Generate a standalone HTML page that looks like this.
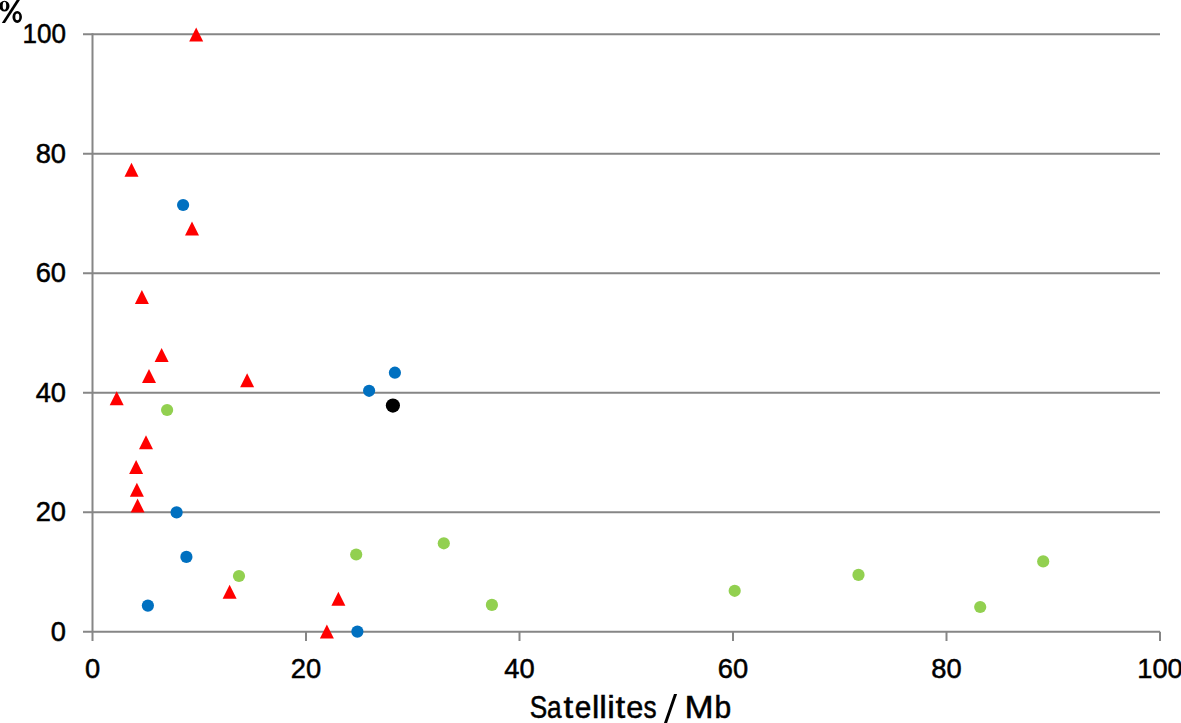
<!DOCTYPE html>
<html><head><meta charset="utf-8"><style>
html,body{margin:0;padding:0;background:#fff;}
body{width:1181px;height:723px;overflow:hidden;position:relative;}
svg{position:absolute;left:0;top:0;}
text{font-family:"Liberation Sans",sans-serif;fill:#000;stroke:#000;stroke-width:0.5px;}
</style></head><body>
<svg width="1181" height="723" viewBox="0 0 1181 723">
<line x1="83" y1="631.70" x2="1160" y2="631.70" stroke="#868686" stroke-width="2"/>
<line x1="83" y1="512.20" x2="1160" y2="512.20" stroke="#868686" stroke-width="2"/>
<line x1="83" y1="392.70" x2="1160" y2="392.70" stroke="#868686" stroke-width="2"/>
<line x1="83" y1="273.20" x2="1160" y2="273.20" stroke="#868686" stroke-width="2"/>
<line x1="83" y1="153.70" x2="1160" y2="153.70" stroke="#868686" stroke-width="2"/>
<line x1="83" y1="34.20" x2="1160" y2="34.20" stroke="#868686" stroke-width="2"/>
<line x1="92.5" y1="33.2" x2="92.5" y2="641" stroke="#868686" stroke-width="2"/>
<line x1="306.00" y1="631.7" x2="306.00" y2="641" stroke="#868686" stroke-width="2"/>
<line x1="519.50" y1="631.7" x2="519.50" y2="641" stroke="#868686" stroke-width="2"/>
<line x1="733.00" y1="631.7" x2="733.00" y2="641" stroke="#868686" stroke-width="2"/>
<line x1="946.50" y1="631.7" x2="946.50" y2="641" stroke="#868686" stroke-width="2"/>
<line x1="1160.00" y1="631.7" x2="1160.00" y2="641" stroke="#868686" stroke-width="2"/>
<circle cx="167.1" cy="410.0" r="6.1" fill="#92D050"/>
<circle cx="239.0" cy="576.0" r="6.1" fill="#92D050"/>
<circle cx="356.2" cy="554.5" r="6.1" fill="#92D050"/>
<circle cx="443.8" cy="543.3" r="6.1" fill="#92D050"/>
<circle cx="491.9" cy="604.9" r="6.1" fill="#92D050"/>
<circle cx="734.7" cy="590.8" r="6.1" fill="#92D050"/>
<circle cx="858.5" cy="574.9" r="6.1" fill="#92D050"/>
<circle cx="980.2" cy="607.0" r="6.1" fill="#92D050"/>
<circle cx="1043.2" cy="561.4" r="6.1" fill="#92D050"/>
<circle cx="183.1" cy="205.0" r="6.1" fill="#0070C0"/>
<circle cx="394.9" cy="372.7" r="6.1" fill="#0070C0"/>
<circle cx="369.1" cy="390.8" r="6.1" fill="#0070C0"/>
<circle cx="176.6" cy="512.4" r="6.1" fill="#0070C0"/>
<circle cx="186.4" cy="556.9" r="6.1" fill="#0070C0"/>
<circle cx="147.9" cy="605.6" r="6.1" fill="#0070C0"/>
<circle cx="357.4" cy="631.6" r="6.1" fill="#0070C0"/>
<circle cx="392.9" cy="405.6" r="7.1" fill="#000"/>
<path d="M196.20 27.50 L203.20 41.50 L189.20 41.50Z" fill="#FF0000"/>
<path d="M131.50 162.80 L138.50 176.80 L124.50 176.80Z" fill="#FF0000"/>
<path d="M192.00 221.60 L199.00 235.60 L185.00 235.60Z" fill="#FF0000"/>
<path d="M141.90 290.00 L148.90 304.00 L134.90 304.00Z" fill="#FF0000"/>
<path d="M161.60 347.90 L168.60 361.90 L154.60 361.90Z" fill="#FF0000"/>
<path d="M149.00 368.90 L156.00 382.90 L142.00 382.90Z" fill="#FF0000"/>
<path d="M247.10 373.20 L254.10 387.20 L240.10 387.20Z" fill="#FF0000"/>
<path d="M116.70 391.20 L123.70 405.20 L109.70 405.20Z" fill="#FF0000"/>
<path d="M146.00 435.20 L153.00 449.20 L139.00 449.20Z" fill="#FF0000"/>
<path d="M136.10 459.90 L143.10 473.90 L129.10 473.90Z" fill="#FF0000"/>
<path d="M136.90 482.70 L143.90 496.70 L129.90 496.70Z" fill="#FF0000"/>
<path d="M137.60 498.60 L144.60 512.60 L130.60 512.60Z" fill="#FF0000"/>
<path d="M229.60 584.70 L236.60 598.70 L222.60 598.70Z" fill="#FF0000"/>
<path d="M338.40 591.80 L345.40 605.80 L331.40 605.80Z" fill="#FF0000"/>
<path d="M326.90 624.60 L333.90 638.60 L319.90 638.60Z" fill="#FF0000"/>
<g font-size="27.3">
<text x="66" y="640.5" text-anchor="end">0</text>
<text x="66" y="521.0" text-anchor="end">20</text>
<text x="66" y="401.5" text-anchor="end">40</text>
<text x="66" y="282.0" text-anchor="end">60</text>
<text x="66" y="162.5" text-anchor="end">80</text>
<text x="66" y="43.0" text-anchor="end" transform="translate(66 0) scale(0.955 1) translate(-66 0)">100</text>
<text x="92.5" y="678" text-anchor="middle">0</text>
<text x="306.0" y="678" text-anchor="middle">20</text>
<text x="519.5" y="678" text-anchor="middle">40</text>
<text x="733.0" y="678" text-anchor="middle">60</text>
<text x="946.5" y="678" text-anchor="middle">80</text>
<text x="1160.0" y="678" text-anchor="middle">100</text>
</g>
<path fill-rule="evenodd" fill="#000" d="M-0.60 6.10A5.05 5.4 0 1 0 9.50 6.10A5.05 5.4 0 1 0 -0.60 6.10ZM2.70 5.80A1.75 4.0 0 1 0 6.20 5.80A1.75 4.0 0 1 0 2.70 5.80ZM12.45 16.90A4.75 6.0 0 1 0 21.95 16.90A4.75 6.0 0 1 0 12.45 16.90ZM15.30 16.90A2.0 3.3 0 1 0 19.30 16.90A2.0 3.3 0 1 0 15.30 16.90Z"/>
<path fill="#000" d="M17.9 -2L21.2 -2L5.0 22.9L1.8 22.9Z"/>
<text y="718.4" font-size="31.2" transform="translate(529.77 0) scale(0.840 1)" x="0">S</text>
<text y="718.4" font-size="31.2" transform="translate(547.06 0) scale(0.840 1)" x="0">a</text>
<text y="718.4" font-size="31.2" transform="translate(563.56 0) scale(1.120 1)" x="0">t</text>
<text y="718.4" font-size="31.2" transform="translate(574.68 0) scale(0.956 1)" x="0">e</text>
<text y="718.4" font-size="31.2" transform="translate(591.93 0) scale(1.058 1)" x="0">l</text>
<text y="718.4" font-size="31.2" transform="translate(599.25 0) scale(1.094 1)" x="0">l</text>
<text y="718.4" font-size="31.2" transform="translate(607.27 0) scale(1.094 1)" x="0">i</text>
<text y="718.4" font-size="31.2" transform="translate(615.41 0) scale(1.120 1)" x="0">t</text>
<text y="718.4" font-size="31.2" transform="translate(626.25 0) scale(0.984 1)" x="0">e</text>
<text y="718.4" font-size="31.2" transform="translate(643.41 0) scale(0.840 1)" x="0">s</text>
<text y="718.4" font-size="31.2" transform="translate(684.45 0) scale(1.120 1)" x="0">M</text>
<text y="718.4" font-size="31.2" transform="translate(714.42 0) scale(0.962 1)" x="0">b</text>
<path fill="#000" d="M674.0 694.1L677.1 694.1L666.4 725L663.3 725Z"/>
</svg>
</body></html>
